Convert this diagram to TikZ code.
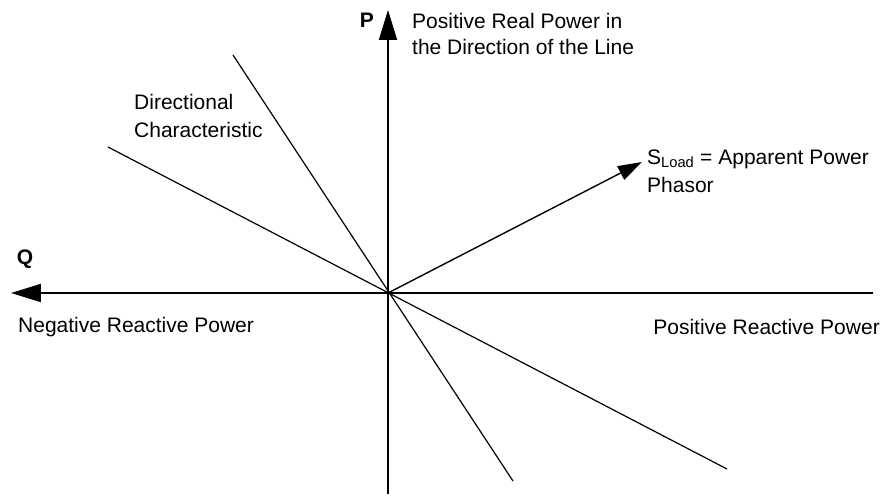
\documentclass[tikz,border=0pt]{standalone}
\usepackage{fontspec}
\setmainfont{Liberation Sans}
\usetikzlibrary{arrows.meta}

\begin{document}
\begin{tikzpicture}[x=1pt,y=1pt,font=\fontsize{21}{28}\selectfont,
  axis/.style={line width=2pt,-{Triangle[length=30pt,width=18pt]}},
  charline/.style={line width=1.2pt},
  phasor/.style={line width=1.4pt,-{Triangle[length=24pt,width=15pt]}},
  lbl/.style={inner sep=0pt,align=left}]
  \useasboundingbox (-388,-205) rectangle (507,293);
  % axes
  \coordinate (O) at (0,0);
  \coordinate (Qtip) at (-377,0);
  \coordinate (Qend) at (485,0);
  \coordinate (Ptip) at (0,283);
  \coordinate (Pend) at (0,-201);
  \draw[axis] (Qend) -- (Qtip);
  \draw[axis] (Pend) -- (Ptip);
  % directional characteristic
  \coordinate (c1a) at (-155,238);
  \coordinate (c1b) at (125,-188);
  \coordinate (c2a) at (-280,146);
  \coordinate (c2b) at (339,-176);
  \draw[charline] (c1a) -- (c1b);
  \draw[charline] (c2a) -- (c2b);
  % load phasor
  \coordinate (S) at (254,131);
  \draw[phasor] (O) -- (S);
  % labels
  \node[lbl,font=\fontsize{21}{28}\selectfont\bfseries] (Plbl) at (-21,273) {P};
  \node[lbl,anchor=west,font=\fontsize{21}{26}\selectfont] (Ptxt) at (24,259) {Positive Real Power in\\the Direction of the Line};
  \node[lbl,font=\fontsize{21}{28}\selectfont\bfseries] (Qlbl) at (-363,34) {Q};
  \node[lbl,anchor=west] (Qneg) at (-370,-34) {Negative Reactive Power};
  \node[lbl,anchor=east] (Qpos) at (492,-34) {Positive Reactive Power};
  \node[lbl,anchor=west] (Slbl) at (259,122) {S\textsubscript{Load} = Apparent Power\\Phasor};
  \node[lbl,anchor=west] (Dlbl) at (-254,177) {Directional\\Characteristic};
\end{tikzpicture}
\end{document}
